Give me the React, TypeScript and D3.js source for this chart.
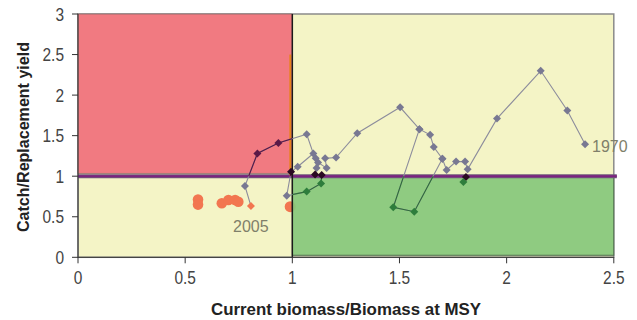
import React from "react";
import * as d3 from "d3";

const xTicks = [0, 0.5, 1, 1.5, 2, 2.5];
const yTicks = [0, 0.5, 1, 1.5, 2, 2.5, 3];
const xTickLabels = ["0", "0.5", "1", "1.5", "2", "2.5"];
const yTickLabels = ["0", "0.5", "1", "1.5", "2", "2.5", "3"];

// main trajectory 1970 -> 2005 : [biomass ratio, catch ratio]
const trajectory: [number, number][] = [
  [2.366, 1.393],
  [2.283, 1.81],
  [2.159, 2.3],
  [1.955, 1.71],
  [1.818, 1.085],
  [1.806, 1.18],
  [1.764, 1.18],
  [1.72, 1.077],
  [1.7, 1.215],
  [1.66, 1.36],
  [1.643, 1.51],
  [1.593, 1.58],
  [1.503, 1.85],
  [1.303, 1.53],
  [1.204, 1.23],
  [1.153, 1.22],
  [1.16, 1.1],
  [1.12, 1.17],
  [1.109, 1.22],
  [1.113, 1.1],
  [1.106, 1.02],
  [1.137, 1.015],
  [1.134, 0.91],
  [1.067, 0.81],
  [0.974, 0.76],
  [0.994, 1.055],
  [1.025, 1.117],
  [1.098, 1.28],
  [1.067, 1.517],
  [0.935, 1.41],
  [0.837, 1.28],
  [0.779, 0.88],
  [0.807, 0.632],
];
const loopSeries: [number, number][] = [
  [1.593, 1.58],
  [1.471, 0.617],
  [1.569, 0.562],
  [1.7, 1.215],
];
const edgeSeries: [number, number][] = [
  [1.81, 0.99],
  [1.798, 0.93],
];
// other points (large orange markers)
const otherPoints: [number, number][] = [
  [0.56, 0.713],
  [0.56, 0.65],
  [0.671, 0.666],
  [0.702, 0.706],
  [0.733, 0.706],
  [0.748, 0.685],
  [0.99, 0.624],
];
const startLabel = "1970";
const endLabel = "2005";

const W = 637;
const H = 320;
const x = d3.scaleLinear().domain([0, 2.5]).range([78, 613.8]);
const y = d3.scaleLinear().domain([0, 3]).range([257.3, 14]);

const sans = "'Liberation Sans', Arial, sans-serif";

function markerColor(p: [number, number]) {
  const [a, b] = p;
  if (Math.abs(b - 1) < 0.06 && a > 1) return "#2a0a22";
  if (a < 1 && b > 1) return a > 0.97 ? "#2a0a22" : "#5b1847";
  if (a >= 1 && b < 1) return "#2e7d3c";
  return "#787892";
}

function diamond(cx: number, cy: number, r: number) {
  return `M${cx},${cy - r}L${cx + r},${cy}L${cx},${cy + r}L${cx - r},${cy}Z`;
}

export default function App() {
  const line = d3
    .line<[number, number]>()
    .x((d) => x(d[0]))
    .y((d) => y(d[1]));
  const series = [trajectory, loopSeries, edgeSeries];
  const paths = series.map((s) => line(s) || "");

  return (
    <svg
      width={W}
      height={H}
      style={{ position: "absolute", left: 0, top: 0, background: "#fff" }}
    >
      <defs>
        <clipPath id="redClip">
          <rect x={x(0)} y={y(3)} width={x(1) - x(0)} height={y(1.0) - y(3)} />
        </clipPath>
        <clipPath id="greenClip">
          <rect x={x(1)} y={y(1)} width={x(2.5) - x(1)} height={y(0) - y(1)} />
        </clipPath>
      </defs>

      {/* background zones */}
      <rect
        x={x(0)}
        y={y(3)}
        width={x(2.5) - x(0)}
        height={y(0) - y(3)}
        fill="#f4f4c6"
        stroke="#8a8a8a"
        strokeWidth={1.5}
      />
      <rect
        x={x(0)}
        y={y(3)}
        width={x(1) - x(0)}
        height={y(1.035) - y(3)}
        fill="#f17a81"
        stroke="#8a6a6a"
        strokeWidth={0.8}
      />
      {otherPoints.slice(6).map((p, i) => (
        <circle key={"ob" + i} cx={x(p[0])} cy={y(p[1])} r={5.5} fill="#f27650" />
      ))}
      <rect
        x={x(1)}
        y={y(1)}
        width={x(2.5) - x(1)}
        height={y(0.025) - y(1)}
        fill="#86c77b"
        fillOpacity={0.92}
        stroke="#4d6b4d"
        strokeWidth={1}
      />

      {/* reference lines */}
      <line x1={x(0)} x2={x(2.5) + 3} y1={y(1)} y2={y(1)} stroke="#6f5a78" strokeWidth={4} />
      <line x1={x(0)} x2={x(2.5) + 3} y1={y(1)} y2={y(1)} stroke="#7c2280" strokeWidth={2} />
      <line x1={x(1) - 2} x2={x(1) - 2} y1={y(2.5)} y2={y(1.01)} stroke="#e8821e" strokeWidth={2} />
      <line x1={x(1)} x2={x(1)} y1={y(3)} y2={y(0)} stroke="#1a1a1a" strokeWidth={1.5} />

      {/* axes */}
      <line x1={x(0)} x2={x(0)} y1={y(3)} y2={y(0)} stroke="#333" strokeWidth={1} />
      <line x1={x(0)} x2={x(2.5)} y1={y(0)} y2={y(0)} stroke="#333" strokeWidth={1} />
      {yTicks.map((t, i) => (
        <g key={"yt" + i}>
          <line x1={x(0) - 6} x2={x(0)} y1={y(t)} y2={y(t)} stroke="#333" />
          <text
            transform={`translate(64,${y(t) + 6.5}) scale(0.86,1)`}
            textAnchor="end"
            fontFamily={sans}
            fontSize={18}
            fill="#444"
          >
            {yTickLabels[i]}
          </text>
        </g>
      ))}
      {xTicks.map((t, i) => (
        <g key={"xt" + i}>
          <line x1={x(t)} x2={x(t)} y1={y(0)} y2={y(0) + 6} stroke="#333" />
          <text
            transform={`translate(${x(t)},284) scale(0.86,1)`}
            textAnchor="middle"
            fontFamily={sans}
            fontSize={18}
            fill="#444"
          >
            {xTickLabels[i]}
          </text>
        </g>
      ))}

      {/* trajectory lines: gray, then recoloured inside red and green zones */}
      {paths.map((d, i) => (
        <path key={"g" + i} d={d} fill="none" stroke="#8c8c9c" strokeWidth={1.1} />
      ))}
      {paths.map((d, i) => (
        <path key={"r" + i} d={d} fill="none" stroke="#5b1847" strokeWidth={1.2} clipPath="url(#redClip)" />
      ))}
      {paths.map((d, i) => (
        <path key={"gr" + i} d={d} fill="none" stroke="#2e6e38" strokeWidth={1.1} clipPath="url(#greenClip)" />
      ))}

      {/* other points */}
      {otherPoints.slice(0, 6).map((p, i) => (
        <circle key={"o" + i} cx={x(p[0])} cy={y(p[1])} r={5.3} fill="#f27650" />
      ))}

      {/* markers */}
      {series.map((s, si) =>
        s.map((p, i) => {
          const isEnd = si === 0 && i === s.length - 1;
          return (
            <path
              key={`m${si}-${i}`}
              d={diamond(x(p[0]), y(p[1]), 4)}
              fill={isEnd ? "#f27650" : markerColor(p)}
            />
          );
        })
      )}

      {/* year labels */}
      <text x={592} y={152} fontFamily={sans} fontSize={16} fill="#7f7f6a">
        {startLabel}
      </text>
      <text x={233} y={232} fontFamily={sans} fontSize={16} fill="#7f7f6a">
        {endLabel}
      </text>

      {/* axis titles */}
      <text
        x={346}
        y={315}
        textAnchor="middle"
        fontFamily={sans}
        fontWeight="bold"
        fontSize={17}
        fill="#222"
        textLength={270}
        lengthAdjust="spacingAndGlyphs"
      >
        Current biomass/Biomass at MSY
      </text>
      <text
        transform="translate(29,137) rotate(-90)"
        textAnchor="middle"
        fontFamily={sans}
        fontWeight="bold"
        fontSize={17}
        fill="#222"
        textLength={190}
        lengthAdjust="spacingAndGlyphs"
      >
        Catch/Replacement yield
      </text>
    </svg>
  );
}
